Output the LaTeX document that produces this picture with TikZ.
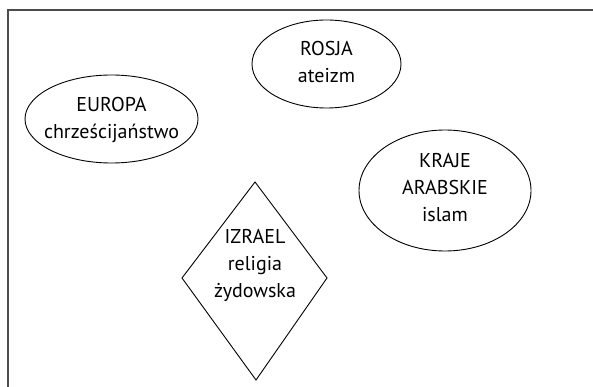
\documentclass[tikz,border=0pt]{standalone}
\usepackage{fontspec}
\setmainfont{PT Sans}
\usetikzlibrary{shapes.geometric}
\begin{document}
\begin{tikzpicture}[x=1pt,y=-1pt,
  lbl/.style={align=center,font=\fontsize{20}{27}\selectfont,inner sep=0pt},
  ell/.style={draw,ellipse,line width=0.9pt,inner sep=0pt},
  dia/.style={draw,line width=0.9pt}]
\useasboundingbox (0,0) rectangle (593,387);
\draw[line width=2pt,color=black!70] (8,387) -- (8,10) -- (593,10);
\node[ell,minimum width=149pt,minimum height=88pt] (rosja) at (326.5,64) {};
\node[lbl] at (326.5,62) {ROSJA\\ateizm};
\node[ell,minimum width=173pt,minimum height=88pt] (europa) at (111.5,119) {};
\node[lbl] at (111.5,120) {EUROPA\\chrześcijaństwo};
\node[ell,minimum width=172pt,minimum height=121pt] (kraje) at (445,190.5) {};
\node[lbl] at (445,188) {KRAJE\\ARABSKIE\\islam};
\coordinate (dt) at (255,182);
\coordinate (dr) at (327,278);
\coordinate (db) at (256,380);
\coordinate (dl) at (182,278);
\draw[dia] (dt) -- (dr) -- (db) -- (dl) -- cycle;
\node[lbl] (izrael) at (255,265) {IZRAEL\\religia\\żydowska};
\end{tikzpicture}
\end{document}
